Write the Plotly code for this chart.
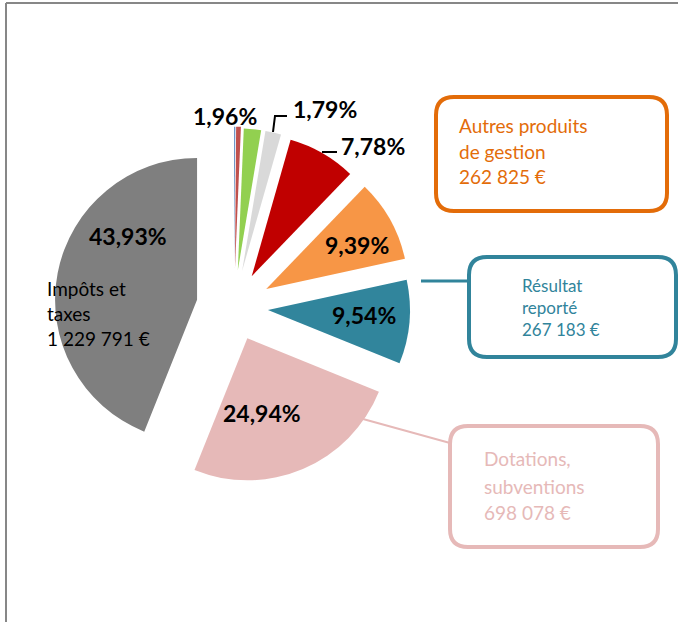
import plotly.graph_objects as go

W, H = 678, 622

# slice data, clockwise from 12 o'clock
labels = ["Autres", "Divers", "Produits financiers", "Produits exceptionnels",
          "Ventes", "Autres produits de gestion", "Résultat reporté",
          "Dotations, subventions", "Impôts et taxes"]
values = [0.13, 0.54, 1.96, 1.79, 7.78, 9.39, 9.54, 24.94, 43.93]
colors = ["#4F81BD", "#C0504D", "#92D050", "#D9D9D9", "#C00000",
          "#F79646", "#31859C", "#E6B9B8", "#7F7F7F"]
pulls = [0.27, 0.27, 0.26, 0.26, 0.25, 0.26, 0.24, 0.24, 0.265]

# callout texts
impots_lines = ["Impôts et", "taxes", "1 229 791 €"]
autres_lines = ["Autres produits", "de gestion", "262 825 €"]
resultat_lines = ["Résultat", "reporté", "267 183 €"]
dotations_lines = ["Dotations,", "subventions", "698 078 €"]


def px(x):
    return x / W


def py(y):
    return 1 - y / H


def fmt_pct(v):
    return f"{v:.2f}%".replace(".", ",")


def rounded_box(x0, y0, x1, y1, r, color, width=4):
    p = (f"M {px(x0 + r)} {py(y0)} L {px(x1 - r)} {py(y0)} "
         f"Q {px(x1)} {py(y0)} {px(x1)} {py(y0 + r)} "
         f"L {px(x1)} {py(y1 - r)} Q {px(x1)} {py(y1)} {px(x1 - r)} {py(y1)} "
         f"L {px(x0 + r)} {py(y1)} Q {px(x0)} {py(y1)} {px(x0)} {py(y1 - r)} "
         f"L {px(x0)} {py(y0 + r)} Q {px(x0)} {py(y0)} {px(x0 + r)} {py(y0)} Z")
    return dict(type="path", path=p, xref="paper", yref="paper",
                line=dict(color=color, width=width), fillcolor="white")


def seg(pts, color, width):
    p = "M " + " L ".join(f"{px(x)} {py(y)}" for x, y in pts)
    return dict(type="path", path=p, xref="paper", yref="paper",
                line=dict(color=color, width=width))


cx, cy, half = 234, 307, 180.3

fig = go.Figure(go.Pie(
    labels=labels, values=values, sort=False, direction="clockwise",
    rotation=0, pull=pulls, textinfo="none", hoverinfo="label+percent",
    marker=dict(colors=colors, line=dict(width=0)),
    domain=dict(x=[px(cx - half), px(cx + half)], y=[py(cy + half), py(cy - half)]),
))

font = "Lato, 'Noto Sans', sans-serif"
annotations = []

# percentage labels
pct_pos = {2: (225, 116), 3: (325, 109), 4: (373, 146), 5: (357, 245),
           6: (364, 315), 7: (262, 413), 8: (128, 236)}
for i, (x, y) in pct_pos.items():
    annotations.append(dict(x=px(x), y=py(y), xref="paper", yref="paper",
                            text=f"<b>{fmt_pct(values[i])}</b>", showarrow=False,
                            font=dict(family=font, size=23, color="black"),
                            xanchor="center", yanchor="middle"))


def add_lines(lines, x, ys, color):
    for t, y in zip(lines, ys):
        annotations.append(dict(x=px(x), y=py(y), xref="paper", yref="paper",
                                text=t, showarrow=False,
                                font=dict(family=font, size=19, color=color),
                                xanchor="left", yanchor="middle"))


add_lines(impots_lines, 45, [288, 313, 338], "black")
add_lines(autres_lines, 457, [125, 151, 176], "#E36C09")
add_lines(dotations_lines, 482, [459, 486, 512], "#E6B9B8")
# tighter block in the teal box
annotations.append(dict(x=px(520), y=py(308), xref="paper", yref="paper",
                        text="<br>".join(resultat_lines), showarrow=False,
                        font=dict(family=font, size=17, color="#31849B"),
                        xanchor="left", yanchor="middle", align="left"))

shapes = [
    seg([(6, 3), (678, 3)], "#878787", 2),
    seg([(6, 3), (6, 622)], "#878787", 2),
    seg([(322, 152), (337, 152)], "black", 2),
    seg([(273, 132), (275, 116), (287, 116)], "black", 2),
    seg([(421, 281), (469, 281)], "#31849B", 3),
    seg([(363, 419), (450, 443)], "#E6B9B8", 2),
    rounded_box(436, 97, 667, 211, 18, "#E36C09"),
    rounded_box(469, 257, 676, 357, 18, "#31849B"),
    rounded_box(450, 426, 658, 547, 18, "#E6B9B8"),
]

fig.update_layout(
    width=W, height=H, margin=dict(l=0, r=0, t=0, b=0),
    paper_bgcolor="white", plot_bgcolor="white", showlegend=False,
    annotations=annotations, shapes=shapes,
)

fig.write_html("out.html", config={"displayModeBar": False},
               post_script="document.body.style.margin = '0';")
